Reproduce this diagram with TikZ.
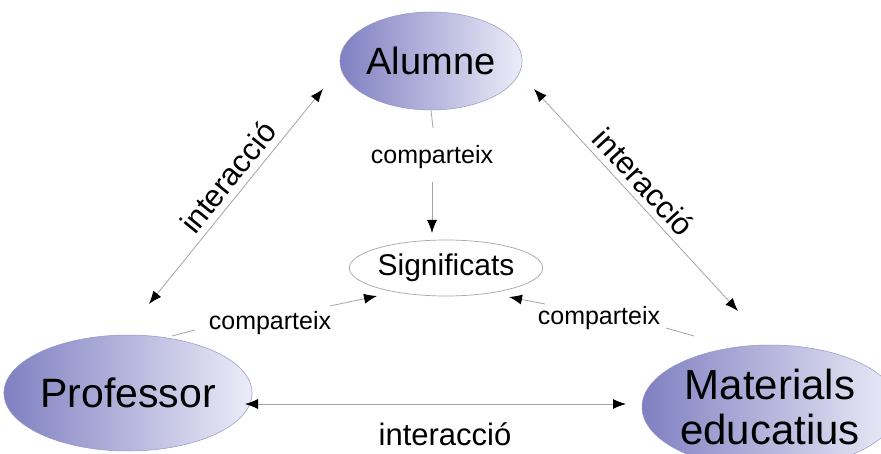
\documentclass[tikz,border=0pt]{standalone}
\usepackage{fontspec}
\setmainfont{Liberation Sans}
\usetikzlibrary{shapes.geometric,arrows.meta}
\definecolor{blobdark}{RGB}{128,128,194}
\definecolor{bloblight}{RGB}{236,236,248}
\definecolor{blobedge}{RGB}{150,150,200}
\definecolor{linegray}{RGB}{165,165,165}
\begin{document}
\begin{tikzpicture}[x=1pt,y=-1pt,
  blob/.style={ellipse, inner sep=0pt, left color=blobdark, right color=bloblight, draw=blobedge, line width=0.5pt},
  conn/.style={draw=linegray, line width=0.8pt},
  tipA/.style={-{Latex[length=13pt,width=10pt,color=black]}},
  tipB/.style={{Latex[length=13pt,width=10pt,color=black]}-{Latex[length=13pt,width=10pt,color=black]}},
  big/.style={font=\fontsize{#1}{#1}\selectfont, inner sep=0pt},
]
\clip (0,0) rectangle (881,454);
\fill[white] (0,0) rectangle (881,454);

% main nodes
\node[blob, minimum width=172pt, minimum height=98pt, font=\fontsize{38}{38}\selectfont] (alumne) at (431,61) {Alumne};
\node[blob, minimum width=240pt, minimum height=116pt, font=\fontsize{41}{41}\selectfont] (prof) at (128,393) {Professor};
\node[blob, minimum width=256pt, minimum height=124pt, font=\fontsize{42}{45}\selectfont, align=center] (mat) at (770,407) {Materials\\educatius};
\node[ellipse, draw=linegray, line width=0.7pt, minimum width=172pt, minimum height=56pt, inner sep=0pt, font=\fontsize{30}{30}\selectfont] (sig) at (446,268) {Significats};

% labels
\node[big=25] (ctop) at (432,157) {comparteix};
\node[big=25] (cleft) at (270,323) {comparteix};
\node[big=25] (cright) at (599,318) {comparteix};
\node[big=31, rotate=51] (ileft) at (228,177) {interacció};
\node[big=31, rotate=-47.5] (iright) at (644,182) {interacció};
\node[big=31] (ibot) at (445,434) {interacció};

% coordinates
\coordinate (t1) at (433,128);
\coordinate (t2) at (432,182);
\coordinate (t3) at (432,233);
\coordinate (l1) at (172,336);
\coordinate (l2) at (195,330);
\coordinate (l3) at (330,306);
\coordinate (l4) at (377,296);
\coordinate (r1) at (545,304);
\coordinate (r2) at (509,297);
\coordinate (r3) at (666,328);
\coordinate (r4) at (694,336);
\coordinate (a1) at (149,304);
\coordinate (a2) at (323,89);
\coordinate (b1) at (534,89);
\coordinate (b2) at (738,311);
\coordinate (c1) at (245,404);
\coordinate (c2) at (626,404);

% connectors
\draw[conn] (alumne.south) -- (t1);
\draw[conn, tipA] (t2) -- (t3);
\draw[conn] (l1) -- (l2);
\draw[conn, tipA] (l3) -- (l4);
\draw[conn, tipA] (r1) -- (r2);
\draw[conn] (r3) -- (r4);
\draw[conn, tipB] (a1) -- (a2);
\draw[conn, tipB] (b1) -- (b2);
\draw[conn, tipB] (c1) -- (c2);
\end{tikzpicture}
\end{document}
